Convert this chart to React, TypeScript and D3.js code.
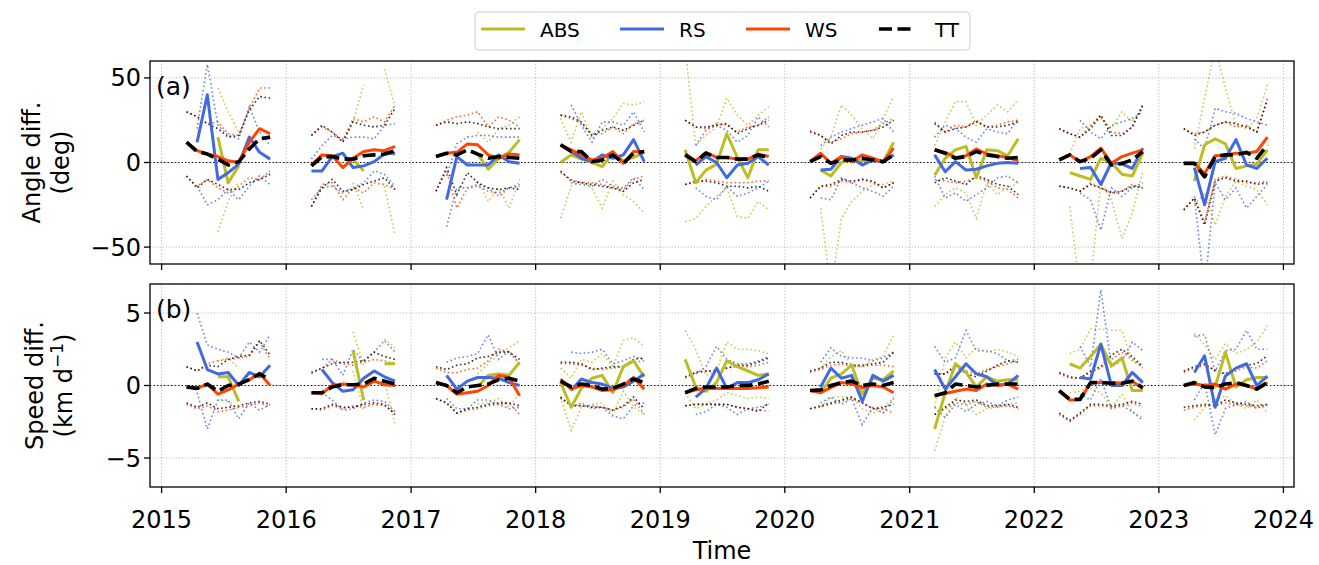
import React from "react";
import * as d3 from "d3";

// Monthly composites (March..November) for each year, 2015-2023.
const N = null;
const years = [2015, 2016, 2017, 2018, 2019, 2020, 2021, 2022, 2023];
const months = [3, 4, 5, 6, 7, 8, 9, 10, 11];
const xTickYears = [2015, 2016, 2017, 2018, 2019, 2020, 2021, 2022, 2023, 2024];
const angleTicks = [-50, 0, 50];
const speedTicks = [-5, 0, 5];
const seriesNames = ["ABS", "RS", "WS", "TT"];
const seriesColors = ["#bcbd22", "#4169e1", "#ff4500", "#000000"];

// ---- Angle difference (deg) ----
const angleAbsMean = [
  [N, N, N, 15, -12, -2, N, N, N],
  [N, N, N, N, 2, -5, N, 6, 5],
  [N, N, N, N, 5, -4, 2.5, 6, 13.5],
  [0, 4.5, 2, 0, -2.5, 5.5, 1, 3, 6],
  [7.5, -12, -4.5, -1, 17, 3, -9, 7.5, 7.5],
  [N, -4.5, -8, 0, 2, 1, 2, 0, 12],
  [-7.5, 2.5, 7.5, 9.5, -9, 7.5, 7, 4, 14],
  [N, -6, -8, -10, 2.5, 0, -7, -8, 5.5],
  [N, -11, 10.5, 14, 11, -3.5, -2, -1, 7.5],
];
const angleAbsHi = [
  [N, N, N, 44, 30, 18, N, N, N],
  [N, N, N, N, 24, 46, N, 55, 33],
  [N, N, N, N, 18, 12, 20, 22, 27],
  [26, 12, 30, 14, 20, 26, 35, 34, 36],
  [68, 10, 16, 21, 38, 28, 22, 28, 33],
  [N, 8, 15, 34, 28, 20, 14, 26, 39],
  [10, 24, 36, 36, 22, 28, 34, 30, 37],
  [N, 5, 20, 22, 26, 20, 30, 24, 32],
  [N, 8, 38, 68, 44, 22, 20, 26, 46],
];
const angleAbsLo = [
  [N, N, N, -41, -23, -11, N, N, N],
  [N, N, N, N, -12, -28, N, -14, -43],
  [N, N, N, N, -11, -23, -15, -27, -10],
  [-33, -14, -11, -15, -27, -11, -19, -23, -30],
  [-35, -33, -26, -20, -15, -32, -33, -23, -28],
  [N, -27, -75, -33, -23, -17, -13, -13, -11],
  [-26, -19, -15, -18, -33, -12, -19, -15, -12],
  [N, -26, -75, -70, -12, -22, -45, -30, -5],
  [N, -25, -18, -37, -20, -11, -14, -16, -25],
];
const angleRsMean = [
  [N, 12, 40, -10, -6, -1, 15, 6, 2],
  [-5, -5, 3.5, 5.5, -3, -2, 0.5, 5, 5.5],
  [N, -22, 3.5, -1.5, -1.5, -1.5, 4.5, 0.5, -0.5],
  [N, 6.5, 2.5, 0.5, 4.5, 2.5, 4.5, 13.5, 0.5],
  [N, -1.5, 3.5, 0, -9, -1.5, -0.5, 3.5, -1.5],
  [N, -4.5, -4, 3.5, 2.5, -1.5, 1.5, 0.5, 4.5],
  [4.5, -5.5, 0.5, -4.5, -4, -2, -0.5, 0, -0.5],
  [N, N, -3.5, -3, -13, 0, -1, -3.5, 8.5],
  [N, -3, -25, 0.5, 2.5, 13.5, -1.5, -3.5, 2.5],
];
const angleRsHi = [
  [N, 20, 58, 22, 16, 14, 33, 18, 10],
  [2, 10, 16, 14, 15, 15, 14, 22, 23],
  [N, -8, 11, 15, 16, 16, 15, 15, 15],
  [N, 34, 22, 12, 24, 24, 22, 30, 18],
  [N, 10, 19, 22, 19, 12, 16, 27, 21],
  [N, 10, 15, 18, 20, 22, 24, 26, 18],
  [15, 22, 20, 15, 12, 20, 18, 17, 26],
  [N, N, 25, 18, 14, 22, 24, 26, 30],
  [N, 14, 8, 32, 30, 29, 26, 24, 22],
];
const angleRsLo = [
  [N, -14, -25, -22, -16, -22, -14, -8, -13],
  [-22, -15, -14, -18, -15, -12, -5, -7, -14],
  [N, -38, -15, -15, -14, -17, -18, -15, -13],
  [N, -12, -13, -14, -10, -14, -15, -9, -16],
  [N, -15, -20, -22, -14, -20, -18, -15, -11],
  [N, -21, -22, -9, -12, -15, -17, -20, -14],
  [-8, -21, -18, -23, -19, -15, -9, -8, -12],
  [N, N, -18, -22, -40, -15, -20, -15, -12],
  [N, -20, -75, -12, -22, -15, -27, -20, -13],
];
const angleWsMean = [
  [12, 7, 5, 3.5, 1, 0, 12, 20, 17],
  [-1.5, 4.5, 4, -3, 2.5, 6.5, 7.5, 7, 9.5],
  [3.5, 5.5, 6, 11, 10.5, 4.5, 2.5, 5, 4.5],
  [10.5, 7.5, 4.5, 1.5, 2.5, 6.5, -0.5, 6.5, 6.5],
  [5, 1, 6, 3, 3, 2, 2, 5, 3.5],
  [0.5, 5.5, -0.5, 3.5, 0.5, 4.5, 2.5, 0.5, 8.5],
  [7.5, 6, 3, 4, 8, 5, 4, 3, 1],
  [1.5, 4.5, 0.5, 3.5, 8.5, -0.5, 3.5, 5.5, 7.5],
  [-0.5, -0.5, -6.5, 4, 4.5, 5.5, 5.5, 6.5, 15],
];
const angleWsHi = [
  [30, 27, 23, 24, 17, 16, 32, 44, 44],
  [16, 21, 18, 13, 26, 24, 27, 24, 34],
  [22, 25, 27, 28, 30, 21, 27, 25, 21],
  [28, 26, 23, 17, 17, 21, 17, 23, 25],
  [25, 21, 20, 23, 22, 18, 21, 22, 27],
  [19, 16, 12, 14, 17, 18, 19, 23, 26],
  [24, 18, 22, 21, 25, 21, 22, 24, 25],
  [20, 17, 15, 22, 28, 18, 17, 21, 34],
  [20, 17, 18, 22, 24, 21, 22, 18, 38],
];
const angleWsLo = [
  [-8, -14, -10, -15, -18, -14, -9, -10, -5],
  [-26, -13, -12, -22, -15, -18, -12, -13, -16],
  [-17, -5, -27, -15, -13, -15, -20, -15, -14],
  [-6, -10, -12, -12, -13, -15, -16, -10, -8],
  [-13, -12, -10, -11, -12, -12, -12, -11, -11],
  [-21, -14, -14, -11, -12, -10, -12, -15, -12],
  [-10, -11, -12, -11, -9, -11, -15, -16, -21],
  [-14, -15, -17, -12, -15, -18, -17, -13, -15],
  [-28, -21, -35, -10, -8, -10, -12, -12, -11],
];
const angleTtMean = [
  [12, 6.5, 5, 2, -1.5, 0.5, 8, 14, 15],
  [-2, 3.5, 3.5, 2, 2, 4, 4.5, 5, 7],
  [3.5, 5.5, 4.5, 7.5, 5, 2.5, 3.5, 3, 2.5],
  [10.5, 6.5, 6.5, 0.5, 1.5, 4.5, -0.5, 5.5, 6.5],
  [4.5, 0.5, 5.5, 3, 3, 2, 2, 4.5, 3],
  [0.5, 3.5, -0.5, 1.5, 1.5, 2.5, 1.5, 0.5, 4.5],
  [7.5, 5.5, 2.5, 3.5, 6.5, 4.5, 3.5, 2.5, 3],
  [1.5, 4.5, 0.5, 2.5, 7.5, -1.5, -0.5, 1.5, 6.5],
  [-0.5, -0.5, -8.5, 3.5, 4.5, 4.5, 6, 2.5, 10.5],
];
const angleTtHi = [
  [30, 27, 23, 20, 15, 16, 31, 39, 38],
  [16, 22, 18, 12, 24, 22, 21, 22, 32],
  [22, 24, 23, 24, 23, 21, 20, 20, 20],
  [28, 27, 24, 16, 19, 21, 19, 22, 25],
  [25, 21, 21, 22, 23, 17, 20, 22, 25],
  [18, 16, 11, 16, 18, 18, 19, 21, 25],
  [23, 18, 20, 21, 24, 21, 21, 22, 24],
  [20, 17, 15, 20, 28, 16, 16, 21, 34],
  [20, 16, 18, 22, 24, 23, 21, 18, 37],
];
const angleTtLo = [
  [-8, -15, -10, -13, -16, -16, -12, -10, -7],
  [-26, -15, -10, -17, -16, -13, -11, -9, -16],
  [-17, -3, -19, -6, -12, -15, -16, -15, -16],
  [-5, -11, -12, -13, -14, -15, -17, -12, -10],
  [-13, -11, -11, -12, -14, -14, -15, -14, -17],
  [-21, -14, -13, -10, -11, -10, -11, -15, -12],
  [-12, -9, -11, -13, -8, -10, -13, -14, -19],
  [-14, -15, -17, -13, -15, -18, -17, -14, -15],
  [-28, -21, -37, -11, -9, -11, -11, -13, -12],
];

// ---- Speed difference (km/day) ----
const speedAbsMean = [
  [N, N, N, 0.6, 0.6, -1.1, N, N, N],
  [N, N, N, N, 2.4, -1.0, N, 1.5, 1.5],
  [N, N, N, N, -0.1, 0.7, 0.8, 0.7, 1.6],
  [0.2, -1.5, -0.2, 0.5, 0.7, -0.5, 1.3, 1.7, 0.6],
  [1.8, -0.1, -0.4, 0.2, 1.7, 1.3, 1.0, 0.7, 0.8],
  [N, -0.5, 0.5, 0.8, 1.4, -0.6, 0.5, 0.4, 1.0],
  [-3.0, -0.5, 1.5, 0.9, -0.1, 0.6, 0.3, 0.4, 0.4],
  [N, 1.5, 1.2, 2.0, 2.85, 1.35, 1.9, -0.35, -0.35],
  [N, 0.2, -0.1, -0.1, 2.3, -0.1, 0.4, 0.55, 0.55],
];
const speedAbsHi = [
  [N, N, N, 1.7, 1.9, 1.2, N, N, N],
  [N, N, N, N, 3.7, 1.4, N, 3.2, 2.6],
  [N, N, N, N, 0.8, 1.5, 2.2, 2.6, 3.1],
  [1.2, 0.5, 1.8, 1.6, 2.2, 1.3, 3.1, 3.3, 2.7],
  [3.8, 2.5, 0.7, 1.0, 3.0, 2.5, 2.5, 2.4, 2.2],
  [N, 1.2, 2.0, 2.4, 1.4, 1.3, 1.8, 2.0, 3.5],
  [-1.5, 1.9, 3.0, 1.9, 2.6, 2.3, 2.5, 2.3, 2.0],
  [N, 2.2, 2.5, 3.9, 3.9, 3.8, 3.8, 1.6, 1.5],
  [N, 3.6, 2.8, 1.8, 2.9, 2.2, 2.5, 3.0, 4.1],
];
const speedAbsLo = [
  [N, N, N, -1.0, -1.1, -1.6, N, N, N],
  [N, N, N, N, 1.0, -1.7, N, 0.3, -2.7],
  [N, N, N, N, -1.3, -1.2, -0.9, -1.5, -0.5],
  [-0.8, -3.1, -1.5, -1.3, -1.2, -2.0, -0.4, -1.5, -2.0],
  [-0.5, -1.6, -1.3, -1.0, -0.5, -0.7, -0.9, -0.8, -0.9],
  [N, -1.5, -0.8, -0.8, -0.8, -1.6, -1.9, -1.6, -0.8],
  [-4.5, -2.2, -0.8, -1.3, -2.0, -1.6, -1.5, -1.3, -1.2],
  [N, -0.5, -0.4, -0.2, -0.5, -1.5, -0.6, -1.8, -2.2],
  [N, -2.4, -1.5, -1.0, -0.7, -1.3, -1.6, -1.0, -1.9],
];
const speedRsMean = [
  [N, 3.0, 1.1, 0.8, 0.9, 0, 0.9, 0.6, 1.4],
  [N, 1.1, 0.2, -0.4, -0.3, 0.5, 1.0, 0.6, 0.3],
  [N, 0.7, -0.25, 0.3, 0.55, 0.55, 0.5, 0.2, 0],
  [N, -0.35, 0.45, 0.2, 0.1, -0.2, -0.1, 0.3, 0.8],
  [N, -0.8, -0.2, 1.2, -0.2, 0.2, 0.2, 0.4, 0.8],
  [N, -0.1, 1.2, 0.5, 0.7, -1.1, 0.7, 0.3, 0.7],
  [1.1, -0.25, 0.6, 1.5, 0.8, 0.6, 0, 0.1, 0.7],
  [N, N, 0.55, 0.45, 2.85, 0, 0, 0.9, 0.2],
  [N, 0.9, 2.05, -1.5, 0.65, 1.2, 1.5, 0, 0.65],
];
const speedRsHi = [
  [N, 5.0, 2.8, 2.5, 2.3, 1.9, 3.0, 2.3, 3.5],
  [N, 1.8, 1.8, 0.7, 2.5, 1.6, 2.3, 3.1, 2.3],
  [N, 1.6, 1.9, 2.0, 2.2, 3.5, 1.8, 2.4, 1.5],
  [N, 2.3, 2.2, 2.3, 2.5, 1.5, 1.7, 2.0, 1.8],
  [N, 0.8, 1.3, 2.7, 1.8, 1.5, 1.5, 1.7, 2.0],
  [N, 1.6, 2.6, 2.0, 1.9, 1.9, 1.7, 1.9, 2.3],
  [2.7, 1.6, 1.9, 3.8, 2.4, 2.4, 2.2, 1.7, 1.8],
  [N, N, 2.7, 1.3, 6.6, 1.3, 1.7, 3.0, 2.4],
  [N, 3.4, 3.5, 1.0, 2.4, 2.5, 3.8, 2.5, 2.5],
];
const speedRsLo = [
  [N, -0.5, -3.0, -1.0, -1.0, -2.3, -1.2, -1.7, -1.3],
  [N, -0.5, -1.0, -1.7, -1.6, -1.2, -1.0, -1.1, -1.8],
  [N, -0.9, -1.6, -1.6, -1.0, -1.0, -1.3, -1.6, -1.5],
  [N, -1.5, -1.2, -1.6, -1.5, -2.1, -2.3, -1.4, -1.2],
  [N, -2.0, -1.8, -1.3, -1.5, -2.0, -1.6, -1.5, -1.3],
  [N, -1.2, -0.8, -1.3, -0.9, -2.7, -1.5, -1.9, -0.9],
  [-1.5, -2.2, -1.3, -1.8, -1.3, -1.1, -1.4, -1.0, -0.8],
  [N, N, -0.6, -1.0, 0.5, -1.6, -1.4, -1.8, -2.4],
  [N, -1.0, 0.2, -3.4, -1.6, -1.3, -1.1, -1.6, -1.3],
];
const speedWsMean = [
  [-0.1, -0.2, 0.1, -0.6, -0.3, 0.1, 0.4, 0.85, 0],
  [-0.5, -0.55, 0, 0.1, 0.05, -0.1, 0.3, 0.05, 0],
  [0.2, 0, -0.6, -0.5, -0.4, 0, 0.7, 0.55, -0.7],
  [0.45, -0.25, 0, -0.1, -0.35, -0.3, 0, 0.55, -0.25],
  [-0.5, -0.3, -0.2, -0.2, -0.2, -0.2, -0.2, -0.15, -0.1],
  [-0.35, -0.5, -0.15, 0.2, 0.1, -0.15, 0, -0.1, -0.5],
  [-0.7, -0.55, -0.4, -0.25, -0.35, 0.1, 0, 0.1, -0.25],
  [-0.4, -1.0, -1.0, 0.2, 0.2, 0.2, 0.15, 0.3, -0.2],
  [0, 0.1, 0, 0.1, -0.25, 0.1, 0, -0.25, 0.2],
];
const speedWsHi = [
  [1.3, 1.0, 1.5, 1.7, 1.8, 1.9, 2.0, 3.0, 1.8],
  [0.8, 1.2, 1.8, 1.5, 1.4, 1.6, 1.8, 1.7, 1.5],
  [1.2, 0.9, 0.9, 1.1, 1.2, 1.7, 2.5, 2.3, 1.5],
  [1.5, 1.5, 1.4, 1.2, 1.1, 1.2, 1.3, 1.6, 1.7],
  [0.5, 0.9, 1.0, 1.0, 1.2, 1.3, 1.3, 1.4, 1.6],
  [0.9, 1.1, 1.4, 1.5, 1.3, 1.3, 1.4, 1.4, 1.3],
  [0.8, 0.8, 1.2, 1.0, 0.8, 1.1, 1.3, 1.5, 1.7],
  [0.8, 0.5, 0.5, 0.9, 1.2, 1.8, 2.3, 1.8, 1.2],
  [0.9, 1.2, 1.4, 1.1, 0.8, 1.0, 1.3, 1.2, 1.7],
];
const speedWsLo = [
  [-1.3, -1.6, -1.4, -1.8, -1.7, -1.5, -1.4, -1.2, -1.5],
  [-1.6, -1.7, -1.4, -1.6, -1.4, -1.5, -1.3, -1.4, -1.9],
  [-0.9, -1.2, -1.9, -1.7, -1.6, -1.4, -1.3, -1.2, -2.0],
  [-0.9, -1.3, -1.4, -1.4, -1.5, -1.7, -1.5, -0.9, -2.0],
  [-1.4, -1.3, -1.3, -1.3, -1.3, -1.5, -1.6, -1.7, -1.75],
  [-1.6, -1.5, -1.3, -1.1, -0.9, -1.2, -1.6, -1.6, -1.9],
  [-2.0, -1.6, -1.2, -1.3, -1.1, -1.5, -1.5, -1.4, -1.6],
  [-2.0, -2.5, -2.0, -1.4, -1.4, -1.5, -1.4, -1.2, -1.5],
  [-1.7, -1.5, -1.4, -1.4, -1.2, -1.3, -1.4, -1.5, -1.4],
];
const speedTtMean = [
  [-0.1, -0.2, 0.1, -0.4, 0, 0.1, 0.4, 0.8, 0.4],
  [-0.5, -0.5, -0.1, 0.05, 0.05, 0.1, 0.5, 0.3, 0.1],
  [0.2, 0, -0.5, -0.1, 0, 0.1, 0.4, 0.5, 0.3],
  [0.3, -0.1, 0.1, 0, -0.25, -0.2, 0.1, 0.45, 0.2],
  [-0.5, -0.2, -0.1, -0.1, -0.1, 0, 0, 0.1, 0.3],
  [-0.35, -0.3, 0, 0.2, 0.3, 0, 0.1, 0, 0.2],
  [-0.7, -0.5, 0.1, 0, -0.1, 0, 0.1, 0.1, 0.1],
  [-0.35, -0.95, -0.95, 0.2, 0.2, 0.15, 0.15, 0.3, -0.15],
  [0, 0.2, -0.1, -0.15, 0.1, 0.2, 0, -0.25, 0.2],
];
const speedTtHi = [
  [1.3, 1.0, 1.4, 1.3, 1.8, 2.0, 2.1, 3.1, 2.1],
  [0.9, 1.2, 1.5, 1.6, 1.6, 1.7, 2.3, 2.0, 1.8],
  [1.3, 1.1, 1.4, 1.5, 1.9, 2.0, 2.3, 2.3, 1.8],
  [1.6, 1.6, 1.5, 1.1, 1.2, 1.3, 1.3, 1.8, 1.9],
  [0.6, 0.9, 1.0, 1.0, 1.2, 1.4, 1.4, 1.6, 1.9],
  [1.0, 1.2, 1.6, 1.6, 1.4, 1.4, 1.5, 1.6, 2.3],
  [0.8, 0.8, 1.4, 0.8, 0.6, 1.0, 1.4, 1.7, 1.6],
  [0.9, 0.6, 0.5, 1.0, 1.3, 2.1, 2.5, 2.0, 1.3],
  [1.0, 1.3, 1.5, 1.0, 0.8, 1.2, 1.4, 1.5, 2.05],
];
const speedTtLo = [
  [-1.2, -1.5, -1.2, -1.6, -1.5, -1.4, -1.2, -1.1, -1.3],
  [-1.6, -1.6, -1.3, -1.5, -1.5, -1.3, -1.2, -1.3, -2.0],
  [-0.9, -1.2, -1.9, -1.6, -1.5, -1.3, -1.2, -1.2, -1.4],
  [-0.8, -1.4, -1.4, -1.5, -1.5, -1.7, -1.4, -0.8, -1.6],
  [-1.4, -1.3, -1.3, -1.3, -1.3, -1.5, -1.6, -1.8, -1.2],
  [-1.6, -1.4, -1.2, -1.0, -0.8, -1.2, -1.6, -1.5, -1.3],
  [-2.0, -1.5, -1.0, -1.1, -1.0, -1.4, -1.4, -1.3, -1.5],
  [-1.9, -2.4, -1.9, -1.3, -1.3, -1.4, -1.3, -1.1, -1.3],
  [-1.5, -1.4, -1.3, -1.4, -1.0, -1.2, -1.3, -1.4, -1.3],
];

type Grid = (number | null)[][];
type SeriesSet = { mean: Grid; hi: Grid; lo: Grid }[];

const angleSeries: SeriesSet = [
  { mean: angleAbsMean, hi: angleAbsHi, lo: angleAbsLo },
  { mean: angleRsMean, hi: angleRsHi, lo: angleRsLo },
  { mean: angleWsMean, hi: angleWsHi, lo: angleWsLo },
  { mean: angleTtMean, hi: angleTtHi, lo: angleTtLo },
];
const speedSeries: SeriesSet = [
  { mean: speedAbsMean, hi: speedAbsHi, lo: speedAbsLo },
  { mean: speedRsMean, hi: speedRsHi, lo: speedRsLo },
  { mean: speedWsMean, hi: speedWsHi, lo: speedWsLo },
  { mean: speedTtMean, hi: speedTtHi, lo: speedTtLo },
];

const W = 1319;
const H = 565;
const FONT = "DejaVu Sans, sans-serif";
const plotLeft = 150;
const plotRight = 1294;

const x = d3
  .scaleUtc()
  .domain([new Date(Date.UTC(2014, 10, 28)), new Date(Date.UTC(2024, 1, 1))])
  .range([plotLeft, plotRight]);

type Pt = { t: Date; v: number | null };

function yearPoints(grid: Grid, yi: number): Pt[] {
  return months.map((m, mi) => ({
    t: new Date(Date.UTC(years[yi], m - 1, 15)),
    v: grid[yi][mi],
  }));
}

type PanelProps = {
  id: string;
  top: number;
  bottom: number;
  domain: [number, number];
  ticks: number[];
  series: SeriesSet;
  tag: string;
  showXLabels: boolean;
};

function Panel({ id, top, bottom, domain, ticks, series, tag, showXLabels }: PanelProps) {
  const y = d3.scaleLinear().domain(domain).range([bottom, top]);
  const line = d3
    .line<Pt>()
    .defined((d) => d.v !== null)
    .x((d) => x(d.t))
    .y((d) => y(d.v as number));

  const clipId = `clip-${id}`;
  const paths: JSX.Element[] = [];
  // spread envelopes (dotted)
  series.forEach((s, si) => {
    const color = seriesColors[si];
    years.forEach((_, yi) => {
      ["hi", "lo"].forEach((k) => {
        const d = line(yearPoints((s as any)[k], yi));
        if (d)
          paths.push(
            <path
              key={`${si}-${yi}-${k}`}
              d={d}
              fill="none"
              stroke={color}
              strokeWidth={1.6}
              strokeDasharray="1.6 2.6"
              opacity={0.8}
            />
          );
      });
    });
  });
  // monthly means
  series.forEach((s, si) => {
    const color = seriesColors[si];
    const isTT = si === 3;
    years.forEach((_, yi) => {
      const d = line(yearPoints(s.mean, yi));
      if (d)
        paths.push(
          <path
            key={`${si}-${yi}-m`}
            d={d}
            fill="none"
            stroke={color}
            strokeWidth={isTT ? 3.6 : 3}
            strokeDasharray={isTT ? "13 5.5" : undefined}
            strokeLinejoin="round"
          />
        );
    });
  });

  return (
    <g>
      <defs>
        <clipPath id={clipId}>
          <rect x={plotLeft} y={top} width={plotRight - plotLeft} height={bottom - top} />
        </clipPath>
      </defs>
      {xTickYears.map((yr) => {
        const gx = x(new Date(Date.UTC(yr, 0, 1)));
        return (
          <line key={`gx${yr}`} x1={gx} x2={gx} y1={top} y2={bottom} stroke="#b0b0b0" strokeWidth={0.9} strokeDasharray="1.2 2" />
        );
      })}
      {ticks.map((t) => (
        <line
          key={`gy${t}`}
          x1={plotLeft}
          x2={plotRight}
          y1={y(t)}
          y2={y(t)}
          stroke="#b0b0b0"
          strokeWidth={0.9}
          strokeDasharray="1.2 2"
        />
      ))}
      <line x1={plotLeft} x2={plotRight} y1={y(0)} y2={y(0)} stroke="#000" strokeWidth={1} strokeDasharray="1.3 2.2" />
      <g clipPath={`url(#${clipId})`}>{paths}</g>
      <rect x={plotLeft} y={top} width={plotRight - plotLeft} height={bottom - top} fill="none" stroke="#000" strokeWidth={1.3} />
      {ticks.map((t) => (
        <g key={`ty${t}`}>
          <line x1={plotLeft - 6} x2={plotLeft} y1={y(t)} y2={y(t)} stroke="#000" strokeWidth={1.3} />
          <text x={plotLeft - 9} y={y(t) + 8.5} textAnchor="end" fontSize={24} fontFamily={FONT}>
            {t < 0 ? `\u2212${Math.abs(t)}` : `${t}`}
          </text>
        </g>
      ))}
      {xTickYears.map((yr) => {
        const gx = x(new Date(Date.UTC(yr, 0, 1)));
        return (
          <g key={`tx${yr}`}>
            <line x1={gx} x2={gx} y1={bottom} y2={bottom + 6} stroke="#000" strokeWidth={1.3} />
            {showXLabels && (
              <text x={gx} y={bottom + 41} textAnchor="middle" fontSize={24} fontFamily={FONT}>
                {yr}
              </text>
            )}
          </g>
        );
      })}
      <text x={156} y={top + 34} fontSize={25} fontFamily={FONT}>
        {tag}
      </text>
    </g>
  );
}

function Legend() {
  const items = [
    { x0: 481, tx: 540 },
    { x0: 620, tx: 679 },
    { x0: 746, tx: 805 },
    { x0: 879, tx: 935 },
  ];
  return (
    <g>
      <rect x={475} y={12} width={495} height={38} rx={4} fill="#fff" fillOpacity={0.8} stroke="#cccccc" strokeWidth={1} />
      {seriesNames.map((name, i) => (
        <g key={name}>
          <line
            x1={items[i].x0}
            x2={i === 3 ? items[i].x0 + 35 : items[i].x0 + 44}
            y1={29}
            y2={29}
            stroke={seriesColors[i]}
            strokeWidth={i === 3 ? 3.6 : 3}
            strokeDasharray={i === 3 ? "13 5.5" : undefined}
          />
          <text x={items[i].tx} y={37} fontSize={20} fontFamily={FONT}>
            {name}
          </text>
        </g>
      ))}
    </g>
  );
}

export default function App() {
  return (
    <svg width={W} height={H} style={{ position: "absolute", left: 0, top: 0, background: "#fff" }}>
      <rect width={W} height={H} fill="#fff" />
      <Panel id="a" top={61} bottom={264} domain={[-60, 60]} ticks={angleTicks} series={angleSeries} tag="(a)" showXLabels={false} />
      <Panel id="b" top={284} bottom={487} domain={[-7, 7]} ticks={speedTicks} series={speedSeries} tag="(b)" showXLabels={true} />
      <Legend />
      <text transform="translate(40,162.5) rotate(-90)" textAnchor="middle" fontSize={24} fontFamily={FONT}>
        Angle diff.
      </text>
      <text transform="translate(69,162.5) rotate(-90)" textAnchor="middle" fontSize={24} fontFamily={FONT}>
        (deg)
      </text>
      <text transform="translate(43,385.5) rotate(-90)" textAnchor="middle" fontSize={24} fontFamily={FONT}>
        Speed diff.
      </text>
      <text transform="translate(72,385.5) rotate(-90)" textAnchor="middle" fontSize={24} fontFamily={FONT}>
        (km d<tspan dy={-9} fontSize={17}>{"\u22121"}</tspan>
        <tspan dy={9}>)</tspan>
      </text>
      <text x={722} y={559} textAnchor="middle" fontSize={24} fontFamily={FONT}>
        Time
      </text>
    </svg>
  );
}
